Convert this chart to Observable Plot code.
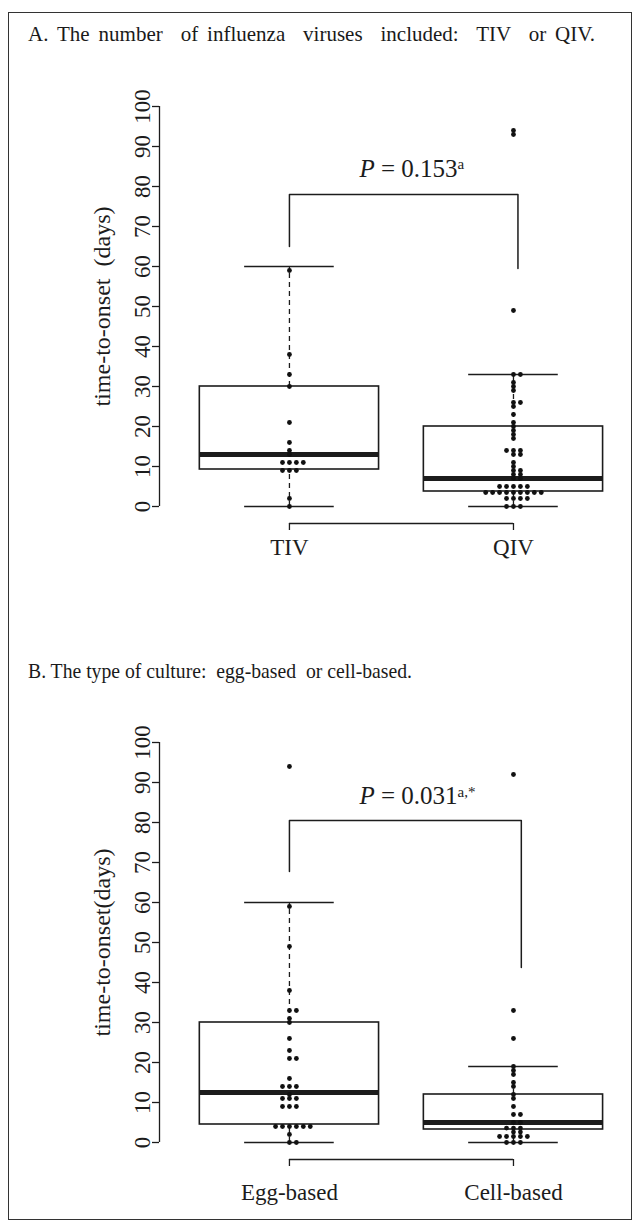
<!DOCTYPE html>
<html>
<head>
<meta charset="utf-8">
<script src="https://cdn.jsdelivr.net/npm/d3@7"></script>
<script src="https://cdn.jsdelivr.net/npm/@observablehq/plot@0.6"></script>
<style>
  body { margin: 0; background: #fff; }
  #wrap { position: relative; width: 640px; height: 1227px; overflow: hidden;
          font-family: "Liberation Serif", "Times New Roman", serif; color: #222; }
  #wrap svg text { font-family: "Liberation Serif", "Times New Roman", serif; }
  #frame { position: absolute; left: 8px; top: 12px; width: 624px; height: 1208px;
           border: 1.5px solid #333; box-sizing: border-box; z-index: 3; pointer-events: none; }
  .title { position: absolute; left: 28px; font-size: 21px; line-height: 21px; white-space: pre;
           display: inline-block; z-index: 4; color: #1a1a1a; transform-origin: 0 0; }
  .panel { position: absolute; left: 0; z-index: 1; }
</style>
</head>
<body>
<div id="wrap">
  <div id="frame"></div>
  <div class="title" id="titleA" style="top:24px"></div>
  <div class="title" id="titleB" style="top:661px"></div>
  <div class="panel" id="panelA" style="top:0px"></div>
  <div class="panel" id="panelB" style="top:636px"></div>
</div>
<script>
// ---------- data ----------
const yTicks = [0, 10, 20, 30, 40, 50, 60, 70, 80, 90, 100];

const titleA = "A. The number  of influenza  viruses  included:  TIV  or QIV.";
const titleB = "B. The type of culture:  egg-based  or cell-based.";

// Panel A
const groupsA = ["TIV", "QIV"];
const valuesTIV = [0, 2, 9, 9, 9, 11, 11, 11, 11, 13, 14, 16, 21, 30, 33, 38, 59];
const valuesQIV = [0, 0, 0, 2, 2, 2, 2, 3.5, 3.5, 3.5, 3.5, 3.5, 3.5, 3.5, 3.5, 3.5,
                   5, 5, 5, 5, 5, 7, 7, 8, 8, 9, 9, 10, 11, 13, 13, 14, 14, 14,
                   17, 18, 19, 20, 21, 23, 25, 26, 26, 29, 30, 31, 33, 33, 49, 93, 94];
const q1A  = [9.25, 3.75];
const medA = [13, 7];
const q3A  = [30, 20];
const loA  = [0, 0];
const hiA  = [60, 33];
const bracketXA = [1, 2.02];
const bracketTopA = 78;
const bracketEndsA = [65, 59.5];
const pValueA = "0.153";
const pSupA = "a";
const pPosA = [1.3125, 84.4];
const yLabelA = "time-to-onset  (days)";

// Panel B
const groupsB = ["Egg-based", "Cell-based"];
const valuesEgg = [0, 0, 2, 4, 4, 4, 4, 4, 4, 9, 9, 9, 11, 11, 11, 12, 14, 14, 14, 16,
                   21, 21, 23, 26, 30, 31, 33, 33, 38, 49, 59, 94];
const valuesCell = [0, 0, 0, 1.5, 1.5, 1.5, 1.5, 1.5, 2.6, 2.6, 3.6, 3.6, 3.6, 5, 5,
                    7, 7, 9, 11, 12, 14, 15, 17, 18, 19, 26, 33, 92];
const q1B  = [4.5, 3.25];
const medB = [12.5, 5];
const q3B  = [30, 12];
const loB  = [0, 0];
const hiB  = [60, 19];
const bracketXB = [1, 2.035];
const bracketTopB = 80.5;
const bracketEndsB = [67.75, 43.75];
const pValueB = "0.031";
const pSupB = "a,*";
const pPosB = [1.3125, 86.6];
const yLabelB = "time-to-onset(days)";

// ---------- drawing ----------
const xDomain = [0.42, 2.567];
const SPACING = 0.031; // horizontal dot spacing (x units)

function panel(cfg) {
  const stats = cfg.groups.map((g, i) => ({
    g, x: i + 1, q1: cfg.q1[i], med: cfg.med[i], q3: cfg.q3[i], lo: cfg.lo[i], hi: cfg.hi[i]
  }));
  const pts = [];
  cfg.values.forEach((vals, i) => {
    const counts = new Map();
    for (const v of vals) {
      const k = counts.get(v) || 0;
      counts.set(v, k + 1);
      const off = k === 0 ? 0 : (k % 2 ? (k + 1) / 2 : -k / 2);
      pts.push({x: i + 1 + off * SPACING, y: v});
    }
  });
  const br = [
    {x: cfg.bracketX[0], y: cfg.bracketEnds[0]},
    {x: cfg.bracketX[0], y: cfg.bracketTop},
    {x: cfg.bracketX[1], y: cfg.bracketTop},
    {x: cfg.bracketX[1], y: cfg.bracketEnds[1]}
  ];
  const pFull = "P = " + cfg.pValue;
  const ink = "#1c1c1c";
  const svg = Plot.plot({
    width: 640,
    height: cfg.height,
    marginLeft: 159,
    marginRight: 0,
    marginTop: 106,
    marginBottom: cfg.height - 506,
    x: {domain: xDomain, axis: null},
    y: {domain: [yTicks[0], yTicks[yTicks.length - 1]], axis: null},
    style: {fontFamily: "'Liberation Serif', 'Times New Roman', serif", color: ink, background: "transparent", overflow: "visible"},
    marks: [
      // whiskers
      Plot.ruleX(stats, {x: "x", y1: "q3", y2: "hi", stroke: ink, strokeWidth: 1.3, strokeDasharray: "5,4"}),
      Plot.ruleX(stats, {x: "x", y1: "lo", y2: "q1", stroke: ink, strokeWidth: 1.3, strokeDasharray: "5,4"}),
      Plot.ruleY(stats, {y: "hi", x1: d => d.x - 0.2, x2: d => d.x + 0.2, stroke: ink, strokeWidth: 1.5}),
      Plot.ruleY(stats, {y: "lo", x1: d => d.x - 0.2, x2: d => d.x + 0.2, stroke: ink, strokeWidth: 1.5}),
      // boxes
      Plot.rect(stats, {x1: d => d.x - 0.4, x2: d => d.x + 0.4, y1: "q1", y2: "q3", fill: "none", stroke: ink, strokeWidth: 1.6}),
      Plot.ruleY(stats, {y: "med", x1: d => d.x - 0.4, x2: d => d.x + 0.4, stroke: ink, strokeWidth: 5}),
      // points
      Plot.dot(pts, {x: "x", y: "y", r: 2.4, fill: "#111", stroke: null}),
      // significance bracket
      Plot.line(br, {x: "x", y: "y", stroke: ink, strokeWidth: 1.5}),
      Plot.text([pFull], {x: cfg.pPos[0], y: cfg.pPos[1], text: d => d, textAnchor: "start", fontSize: 25, fill: ink}),
      // y axis (R style)
      Plot.ruleX([xDomain[0]], {y1: yTicks[0], y2: yTicks[yTicks.length - 1], stroke: ink, strokeWidth: 1.3}),
      Plot.axisY({ticks: yTicks, tickSize: 7, tickRotate: -90, fontSize: 23, label: null, strokeWidth: 1.3}),
      Plot.text([cfg.yLabel], {y: 50, frameAnchor: "left", dx: -57, rotate: -90, textAnchor: "middle", fontSize: 24, fill: ink, text: d => d}),
      // x axis (R style)
      Plot.ruleY([yTicks[0]], {x1: stats[0].x, x2: stats[stats.length - 1].x, dy: 17, stroke: ink, strokeWidth: 1.3}),
      Plot.axisX({ticks: stats.map(d => d.x), tickSize: 7, dy: 17, tickFormat: () => "", label: null, strokeWidth: 1.3}),
      Plot.text(stats, {x: "x", y: yTicks[0], text: "g", dy: cfg.labelDy, fontSize: 23, fill: ink})
    ]
  });
  // italic P and superscript
  d3.select(svg).selectAll("text").each(function() {
    if (this.textContent === pFull) {
      this.textContent = "";
      const t = d3.select(this);
      t.append("tspan").attr("font-style", "italic").text("P");
      t.append("tspan").text(" = " + cfg.pValue);
      t.append("tspan").attr("dy", "-0.5em").attr("font-size", "15px").text(cfg.pSup);
    }
  });
  return svg;
}

document.getElementById("panelA").appendChild(panel({
  groups: groupsA, values: [valuesTIV, valuesQIV],
  q1: q1A, med: medA, q3: q3A, lo: loA, hi: hiA,
  bracketX: bracketXA, bracketTop: bracketTopA, bracketEnds: bracketEndsA,
  pValue: pValueA, pSup: pSupA, pPos: pPosA, yLabel: yLabelA,
  labelDy: 41, height: 600
}));
document.getElementById("panelB").appendChild(panel({
  groups: groupsB, values: [valuesEgg, valuesCell],
  q1: q1B, med: medB, q3: q3B, lo: loB, hi: hiB,
  bracketX: bracketXB, bracketTop: bracketTopB, bracketEnds: bracketEndsB,
  pValue: pValueB, pSup: pSupB, pPos: pPosB, yLabel: yLabelB,
  labelDy: 50, height: 591
}));

// titles: A keeps its natural glyph size with wider word gaps; B is condensed to its width
const elA = document.getElementById("titleA");
const elB = document.getElementById("titleB");
elA.textContent = titleA;
elB.textContent = titleB;
const wB = elB.getBoundingClientRect().width;
elB.style.transform = `scaleX(${Math.min(1, 384 / wB)})`;
const wA = elA.getBoundingClientRect().width;
const nA = (titleA.match(/ /g) || []).length;
elA.style.wordSpacing = ((567 - wA) / nA) + "px";
</script>
</body>
</html>
